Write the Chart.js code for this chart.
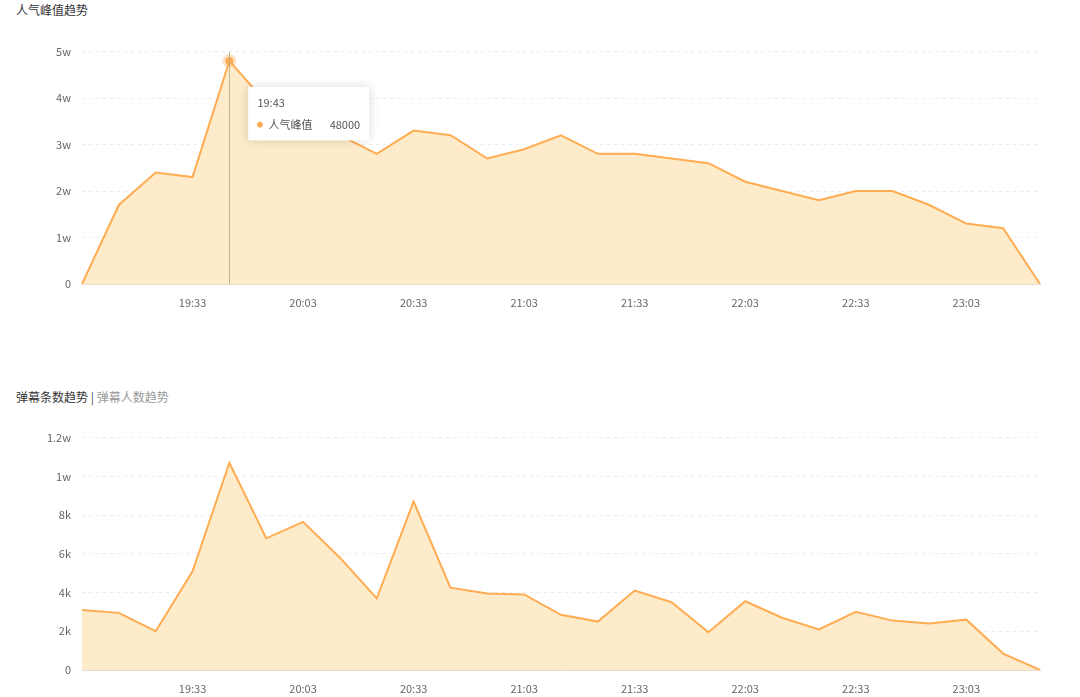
<!DOCTYPE html>
<html>
<head>
<meta charset="utf-8">
<script src="https://cdn.jsdelivr.net/npm/chart.js@4.4.1/dist/chart.umd.min.js"></script>
<style>
  html, body { margin: 0; padding: 0; background: #fff; overflow: hidden; }
  body { width: 1080px; height: 697px; position: relative; font-family: "Noto Sans CJK SC", sans-serif; }
  .title { position: absolute; left: 16px; font-size: 12px; color: #333; line-height: 16px; }
  .title .sep { color: #555; }
  .title .off { color: #999; }
  .box { position: absolute; left: 0; width: 1080px; height: 286px; }
</style>
</head>
<body>
<div class="title" style="top:2px;">人气峰值趋势</div>
<div class="box" style="top:34px;"><canvas id="peakChart"></canvas></div>
<div class="title" style="top:389px;">弹幕条数趋势 <span class="sep">|</span> <span class="off">弹幕人数趋势</span></div>
<div class="box" style="top:420px;"><canvas id="danmuChart"></canvas></div>
<script>
// time slots, 10 min apart
const times = ['19:03', '19:13', '19:23', '19:33', '19:43', '19:53', '20:03', '20:13', '20:23',
  '20:33', '20:43', '20:53', '21:03', '21:13', '21:23', '21:33', '21:43', '21:53',
  '22:03', '22:13', '22:23', '22:33', '22:43', '22:53', '23:03', '23:13', '23:23'];

// 人气峰值
const peakValues = [0, 17000, 24000, 23000, 48000, 39000, 38000, 32000, 28000,
  33000, 32000, 27000, 29000, 32000, 28000, 28000, 27000, 26000,
  22000, 20000, 18000, 20000, 20000, 17000, 13000, 12000, 0];

// 弹幕条数
const danmuValues = [3100, 2950, 2000, 5100, 10700, 6800, 7650, 5800, 3700,
  8700, 4250, 3950, 3900, 2850, 2500, 4100, 3500, 1950,
  3550, 2700, 2100, 3000, 2550, 2400, 2600, 850, 0];

const peakTicks = { max: 50000, step: 10000 };
const danmuTicks = { max: 12000, step: 2000 };
const activeIndex = 4; // 19:43 tooltip

const FONT = '"Noto Sans CJK SC", sans-serif';
const LINE = 'rgb(255, 172, 82)';
const FILL = 'rgb(253, 235, 201)';

function fmtW(v) {
  if (v === 0) return '0';
  if (v >= 10000) return (v / 10000) + 'w';
  return (v / 1000) + 'k';
}

Chart.Tooltip.positioners.besidePoint = function (items) {
  if (!items.length) return false;
  const el = items[0].element;
  return { x: el.x + 23, y: el.y + 26 };
};

// vertical hover line + shadowed tooltip card
const hoverPlugin = {
  id: 'hoverLine',
  afterDatasetsDraw(chart) {
    const act = chart.tooltip && chart.tooltip.getActiveElements();
    if (!act || !act.length) return;
    const x = act[0].element.x;
    const ctx = chart.ctx;
    ctx.save();
    ctx.strokeStyle = 'rgba(190, 172, 145, 0.9)';
    ctx.lineWidth = 1;
    ctx.beginPath();
    ctx.moveTo(Math.round(x) + 0.5, chart.chartArea.top);
    ctx.lineTo(Math.round(x) + 0.5, chart.chartArea.bottom);
    ctx.stroke();
    ctx.restore();
  },
  beforeTooltipDraw(chart, args) {
    const t = args.tooltip;
    if (!t.opacity) return;
    const ctx = chart.ctx;
    ctx.save();
    ctx.shadowColor = 'rgba(0, 0, 0, 0.16)';
    ctx.shadowBlur = 10;
    ctx.fillStyle = '#fff';
    ctx.fillRect(t.x, t.y, t.width, t.height);
    ctx.restore();
  }
};

function makeChart(id, label, values, ticks, withTooltip) {
  const ctx = document.getElementById(id).getContext('2d');
  return new Chart(ctx, {
    type: 'line',
    data: {
      labels: times,
      datasets: [{
        label: label,
        data: values,
        borderColor: LINE,
        backgroundColor: FILL,
        fill: 'origin',
        borderWidth: 2,
        tension: 0,
        pointRadius: 0,
        pointHoverRadius: 4,
        pointBackgroundColor: LINE,
        pointHoverBackgroundColor: LINE,
        pointHoverBorderColor: 'rgba(255, 172, 82, 0.3)',
        pointHoverBorderWidth: 6
      }]
    },
    options: {
      responsive: true,
      maintainAspectRatio: false,
      animation: false,
      events: [],
      layout: { padding: { top: 5, right: 40, left: 0, bottom: 0 } },
      plugins: {
        legend: { display: false },
        tooltip: {
          enabled: withTooltip,
          position: 'besidePoint',
          xAlign: 'left',
          yAlign: 'top',
          caretSize: 0,
          caretPadding: 0,
          cornerRadius: 4,
          backgroundColor: 'rgba(255, 255, 255, 0.92)',
          titleColor: '#555',
          bodyColor: '#555',
          titleFont: { family: FONT, size: 11, weight: 'normal' },
          bodyFont: { family: FONT, size: 11 },
          titleMarginBottom: 9,
          padding: { top: 9, bottom: 9, left: 9, right: 9 },
          usePointStyle: true,
          boxWidth: 5,
          boxHeight: 5,
          boxPadding: 4,
          callbacks: {
            label: (c) => c.dataset.label + '       ' + c.raw,
            labelColor: () => ({ borderColor: LINE, backgroundColor: LINE }),
            labelPointStyle: () => ({ pointStyle: 'circle', rotation: 0 })
          }
        }
      },
      scales: {
        x: {
          offset: false,
          grid: { display: false, drawTicks: false },
          border: { display: true, color: '#e6dccb', width: 1 },
          afterFit: (s) => { s.height = 36; },
          ticks: {
            autoSkip: false,
            maxRotation: 0,
            padding: 12,
            color: '#666',
            font: { family: FONT, size: 11 },
            callback: (v, i) => (i > 0 && i % 3 === 0) ? times[i] : ''
          }
        },
        y: {
          min: 0,
          max: ticks.max,
          afterFit: (s) => { s.width = 82; },
          grid: { color: '#ececec', drawTicks: false, lineWidth: 1 },
          border: { display: false, dash: [3, 4] },
          ticks: {
            stepSize: ticks.step,
            padding: 11,
            color: '#666',
            font: { family: FONT, size: 11 },
            callback: (v) => fmtW(v)
          }
        }
      }
    },
    plugins: [hoverPlugin]
  });
}

const peakChart = makeChart('peakChart', '人气峰值', peakValues, peakTicks, true);
const danmuChart = makeChart('danmuChart', '弹幕条数', danmuValues, danmuTicks, false);

const act = [{ datasetIndex: 0, index: activeIndex }];
peakChart.setActiveElements(act);
peakChart.tooltip.setActiveElements(act, { x: 0, y: 0 });
peakChart.update();
</script>
</body>
</html>
